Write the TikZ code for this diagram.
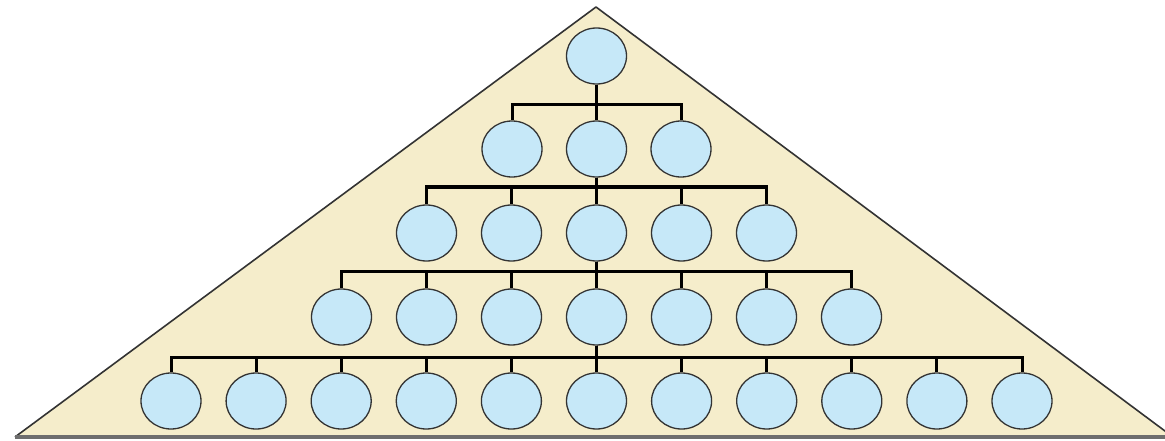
\documentclass[tikz,border=0pt]{standalone}
\usetikzlibrary{shapes.geometric,calc}
\definecolor{beige}{HTML}{F5EDCB}
\definecolor{bub}{HTML}{C6E8F8}
\definecolor{edge}{HTML}{333333}
\definecolor{basegray}{HTML}{6E6E6E}
\begin{document}
\begin{tikzpicture}[x=1pt,y=-1pt,
  bubble/.style={ellipse,draw=edge,line width=1.3pt,fill=bub,minimum width=60pt,minimum height=56pt,inner sep=0pt},
  conn/.style={draw=black,line width=3pt,line join=miter}]
\useasboundingbox (0,0) rectangle (1165,441);
\begin{scope}
\clip (0,0) rectangle (1165,441);
\coordinate (apex) at (596,7);
\coordinate (bl) at (15,437);
\coordinate (br) at (1173,437);
\fill[beige] (apex) -- (br) -- (bl) -- cycle;
\draw[edge,line width=1.6pt,line join=round] (bl) -- (apex) -- (br);
\draw[basegray,line width=4pt] (bl) -- (br);
\end{scope}
% bars
\coordinate (bar2) at (0,105);
\coordinate (bar3) at (0,187);
\coordinate (bar4) at (0,271);
\coordinate (bar5) at (0,357);
% connectors drawn first (below nodes)
\def\rowys{{56,149,233,317,401}}
% node positions
\node[bubble] (r1c1) at (596.5,56) {};
\foreach \i in {1,...,3}{\node[bubble] (r2c\i) at ({596.5+(\i-2)*84.5},149) {};}
\foreach \i in {1,...,5}{\node[bubble] (r3c\i) at ({596.5+(\i-3)*85},233) {};}
\foreach \i in {1,...,7}{\node[bubble] (r4c\i) at ({596.5+(\i-4)*85},317) {};}
\foreach \i in {1,...,11}{\node[bubble] (r5c\i) at ({596.5+(\i-6)*85.1},401) {};}
% connectors
\foreach \i in {1,...,3}{\draw[conn] (r1c1.south) |- (r2c\i.north |- bar2) -- (r2c\i.north);}
\foreach \i in {1,...,5}{\draw[conn] (r2c2.south) |- (r3c\i.north |- bar3) -- (r3c\i.north);}
\foreach \i in {1,...,7}{\draw[conn] (r3c3.south) |- (r4c\i.north |- bar4) -- (r4c\i.north);}
\foreach \i in {1,...,11}{\draw[conn] (r4c4.south) |- (r5c\i.north |- bar5) -- (r5c\i.north);}
\end{tikzpicture}
\end{document}
